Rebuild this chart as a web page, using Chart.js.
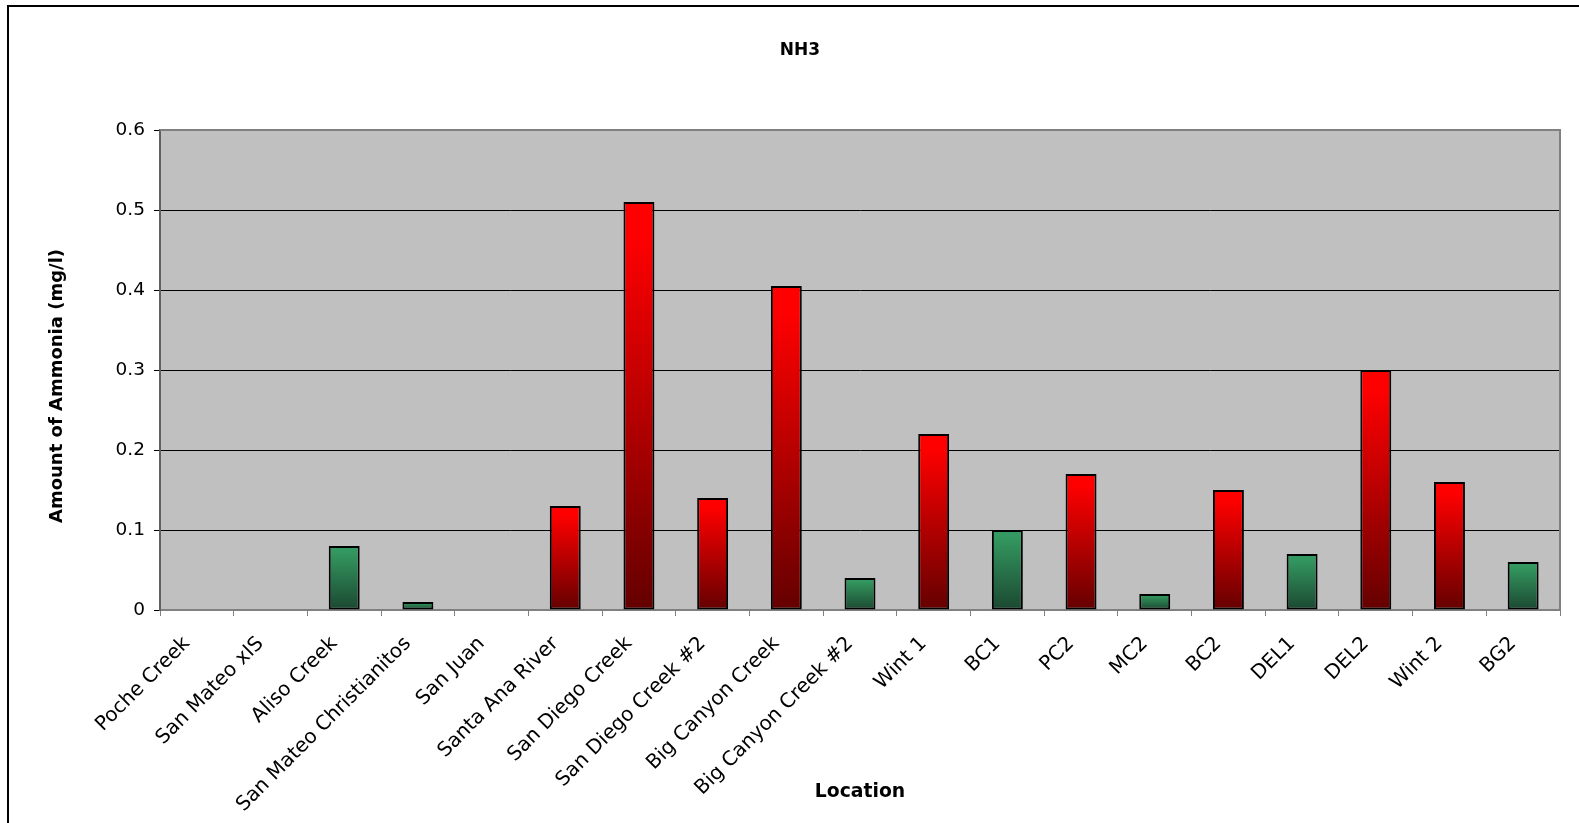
<!DOCTYPE html>
<html>
<head>
<meta charset="utf-8">
<title>NH3</title>
<script src="https://cdn.jsdelivr.net/npm/chart.js@4/dist/chart.umd.min.js"></script>
<style>
  html, body { margin: 0; padding: 0; background: #ffffff; overflow: hidden; }
  #wrap { position: relative; width: 1579px; height: 823px; }
  #frame {
    position: absolute; left: 7px; top: 5px; right: -20px; bottom: -20px;
    border-top: 2px solid #000; border-left: 2px solid #000;
    pointer-events: none;
  }
</style>
</head>
<body>
<div id="wrap">
  <canvas id="chart"></canvas>
  <div id="frame"></div>
</div>
<script>
// Sampling locations along the x axis
const locations = [
  'Poche Creek', 'San Mateo xIS', 'Aliso Creek', 'San Mateo Christianitos',
  'San Juan', 'Santa Ana River', 'San Diego Creek', 'San Diego Creek #2',
  'Big Canyon Creek', 'Big Canyon Creek #2', 'Wint 1', 'BC1', 'PC2', 'MC2',
  'BC2', 'DEL1', 'DEL2', 'Wint 2', 'BG2'
];

// Ammonia measured at each location (mg/l)
const ammonia = [
  0, 0, 0.08, 0.01, 0, 0.13, 0.51, 0.14, 0.405, 0.04,
  0.22, 0.10, 0.17, 0.02, 0.15, 0.07, 0.30, 0.16, 0.06
];

// Values above this level are shown in red, the rest in green
const limit = 0.1;

// Y axis range and step
const yMin = 0;
const yMax = 0.6;
const yStep = 0.1;

const yTitle = 'Amount of Ammonia (mg/l)';

const FONT = "'DejaVu Sans', 'Liberation Sans', Arial, sans-serif";

// Vertical gradient running from the top of each bar down to its base
function barFill(ctx) {
  const chart = ctx.chart;
  if (!chart.chartArea || ctx.type !== 'data') return 'rgba(0,0,0,0)';
  const v = ctx.raw;
  const y = chart.scales.y;
  const top = y.getPixelForValue(v);
  const base = y.getPixelForValue(0);
  if (base - top < 1) return 'rgba(0,0,0,0)';
  const g = chart.ctx.createLinearGradient(0, top, 0, base);
  if (v > limit) {
    g.addColorStop(0, '#ff0000');
    g.addColorStop(0.08, '#ff0000');
    g.addColorStop(1, '#640000');
  } else {
    g.addColorStop(0, '#349a66');
    g.addColorStop(0.1, '#33975f');
    g.addColorStop(1, '#1b4831');
  }
  return g;
}

// Gray plot area with a thin frame
const plotArea = {
  id: 'plotArea',
  beforeDraw(chart) {
    const { ctx, chartArea: a } = chart;
    ctx.save();
    ctx.fillStyle = '#c0c0c0';
    ctx.fillRect(a.left, a.top, a.right - a.left, a.bottom - a.top);
    ctx.restore();
  },
  beforeDatasetsDraw(chart) {
    const { ctx, chartArea: a } = chart;
    ctx.save();
    ctx.strokeStyle = '#808080';
    ctx.lineWidth = 2;
    ctx.beginPath();
    ctx.moveTo(a.left, a.top);
    ctx.lineTo(a.right, a.top);
    ctx.lineTo(a.right, a.bottom);
    ctx.stroke();
    ctx.restore();
  }
};

// Rotated value-axis caption, sitting a little below the plot's mid-height
const valueCaption = {
  id: 'valueCaption',
  afterDraw(chart) {
    const { ctx, chartArea: a } = chart;
    ctx.save();
    ctx.translate(57, (a.top + a.bottom) / 2 + 16);
    ctx.rotate(-Math.PI / 2);
    ctx.font = "bold 18px " + FONT;
    ctx.fillStyle = '#000000';
    ctx.textAlign = 'center';
    ctx.textBaseline = 'middle';
    ctx.fillText(yTitle, 0, 0);
    ctx.restore();
  }
};

new Chart(document.getElementById('chart'), {
  type: 'bar',
  data: {
    labels: locations,
    datasets: [{
      label: 'NH3',
      data: ammonia,
      backgroundColor: barFill,
      borderColor: '#000000',
      borderWidth: (ctx) => (ctx.raw > 0 ? 2 : 0),
      borderSkipped: false,
      barPercentage: 0.42,
      categoryPercentage: 1.0
    }]
  },
  options: {
    responsive: true,
    maintainAspectRatio: false,
    animation: false,
    layout: { padding: { left: 40, right: 19, top: 0, bottom: 0 } },
    plugins: {
      legend: { display: false },
      tooltip: { enabled: false },
      title: {
        display: true,
        text: 'NH3',
        color: '#000000',
        font: { family: FONT, size: 17, weight: 'bold' },
        padding: { top: 40, bottom: 69.6 }
      }
    },
    scales: {
      x: {
        grid: {
          display: true,
          offset: true,
          drawOnChartArea: false,
          drawTicks: true,
          tickLength: 6,
          color: '#808080'
        },
        border: { display: true, color: '#808080', width: 2 },
        ticks: {
          color: '#000000',
          font: { family: FONT, size: 20 },
          minRotation: 45,
          maxRotation: 45,
          autoSkip: false,
          padding: 16,
          labelOffset: -10
        },
        title: {
          display: true,
          text: 'Location',
          color: '#000000',
          font: { family: FONT, size: 18.8, weight: 'bold' },
          padding: { top: 0, bottom: 20 }
        },
        afterFit(scale) { scale.height = 213; }
      },
      y: {
        min: yMin,
        max: yMax,
        grid: {
          color: (ctx) => {
            const v = ctx.tick ? ctx.tick.value : null;
            return (v === yMin || Math.abs(v - yMax) < 1e-9) ? 'rgba(0,0,0,0)' : '#000000';
          },
          tickColor: '#000000',
          tickLength: 6,
          lineWidth: 1
        },
        border: { display: true, color: '#606060', width: 2 },
        ticks: {
          stepSize: yStep,
          color: '#000000',
          font: { family: FONT, size: 18.5 },
          padding: 9,
          callback: (v) => String(Math.round(v * 10) / 10)
        },
        afterFit(scale) { scale.width = 120; }
      }
    }
  },
  plugins: [plotArea, valueCaption]
});
</script>
</body>
</html>
